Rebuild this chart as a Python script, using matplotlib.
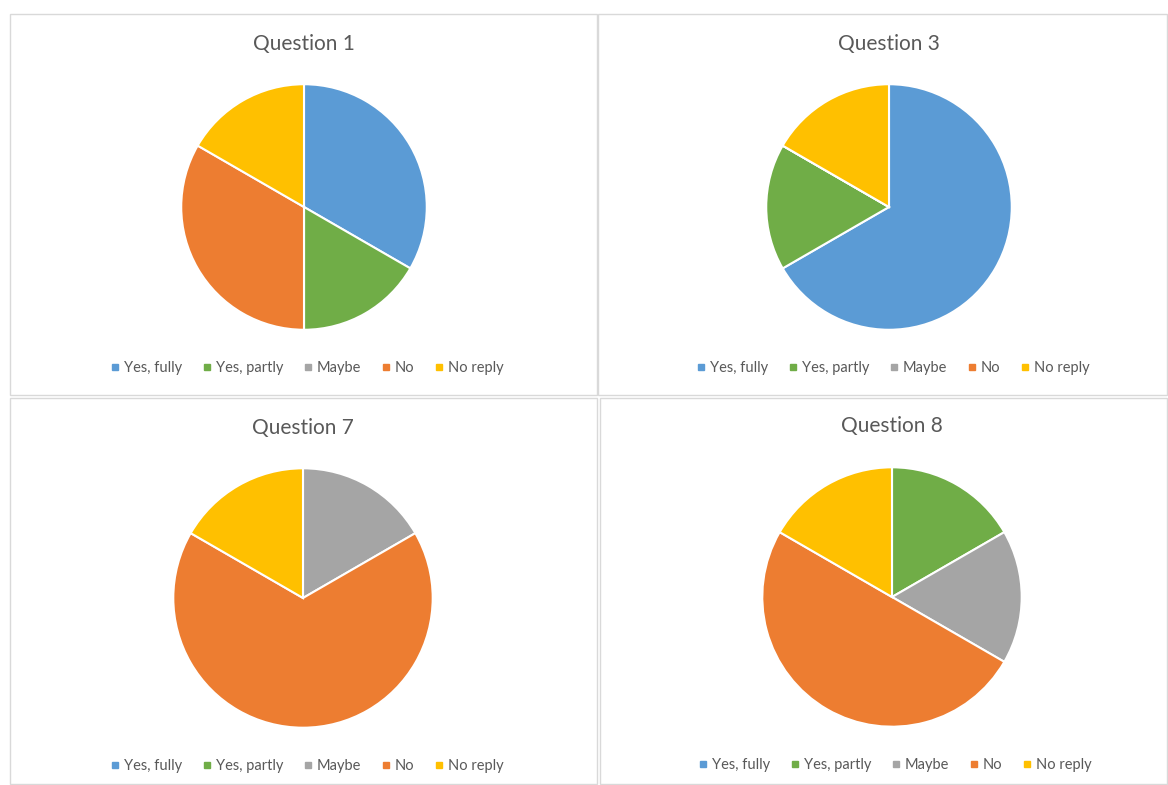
import matplotlib.pyplot as plt
from matplotlib.lines import Line2D
from matplotlib.patches import Rectangle

plt.rcParams['font.family'] = ['Lato', 'DejaVu Sans']

categories = ['Yes, fully', 'Yes, partly', 'Maybe', 'No', 'No reply']
colors = ['#5B9BD5', '#70AD47', '#A5A5A5', '#ED7D31', '#FFC000']

titles = ['Question 1', 'Question 3', 'Question 7', 'Question 8']
q1 = [2, 1, 0, 2, 1]
q3 = [4, 1, 0, 0, 1]
q7 = [0, 0, 1, 4, 1]
q8 = [0, 1, 1, 3, 1]
answers = [q1, q3, q7, q8]

W, H = 1168, 785
fig = plt.figure(figsize=(W / 100, H / 100), dpi=100)

# panel boxes (px): left, top, right, bottom
panels = [(10, 14, 597, 395), (598, 14, 1167, 395),
          (10, 398, 597, 784), (600, 398, 1167, 784)]
# pie centre x, y and radius in px
pies = [(304, 207, 124), (889, 207, 124), (303, 598, 131), (892, 597, 131)]
title_pos = [(304, 44), (889, 44), (303, 428), (892, 426)]
legend_pos = [(307, 368), (893, 368), (307, 766), (895, 765)]

for (l, t, r, b) in panels:
    fig.patches.append(Rectangle((l / W, 1 - b / H), (r - l) / W, (b - t) / H,
                                 transform=fig.transFigure, fill=False,
                                 edgecolor='#D9D9D9', linewidth=1))

handles = [Line2D([], [], marker='s', linestyle='none', markersize=5,
                  markerfacecolor=c, markeredgecolor=c) for c in colors]

for i in range(4):
    cx, cy, rad = pies[i]
    ax = fig.add_axes([(cx - rad) / W, 1 - (cy + rad) / H, 2 * rad / W, 2 * rad / H])
    ax.pie(answers[i], colors=colors, startangle=90, counterclock=False,
           radius=1, wedgeprops=dict(edgecolor='white', linewidth=1.5))
    ax.set_xlim(-1.01, 1.01)
    ax.set_ylim(-1.01, 1.01)
    ax.set_aspect('equal')
    ax.axis('off')

    tx, ty = title_pos[i]
    fig.text(tx / W, 1 - ty / H, titles[i], ha='center', va='center',
             fontsize=15, color='#595959')

    lx, ly = legend_pos[i]
    fig.legend(handles, categories, loc='center', bbox_to_anchor=(lx / W, 1 - ly / H),
               ncol=5, frameon=False, fontsize=10.5, labelcolor='#595959',
               handlelength=0.6, handletextpad=0.3, columnspacing=1.4)

fig.savefig('out.png', dpi=100, facecolor='white')
